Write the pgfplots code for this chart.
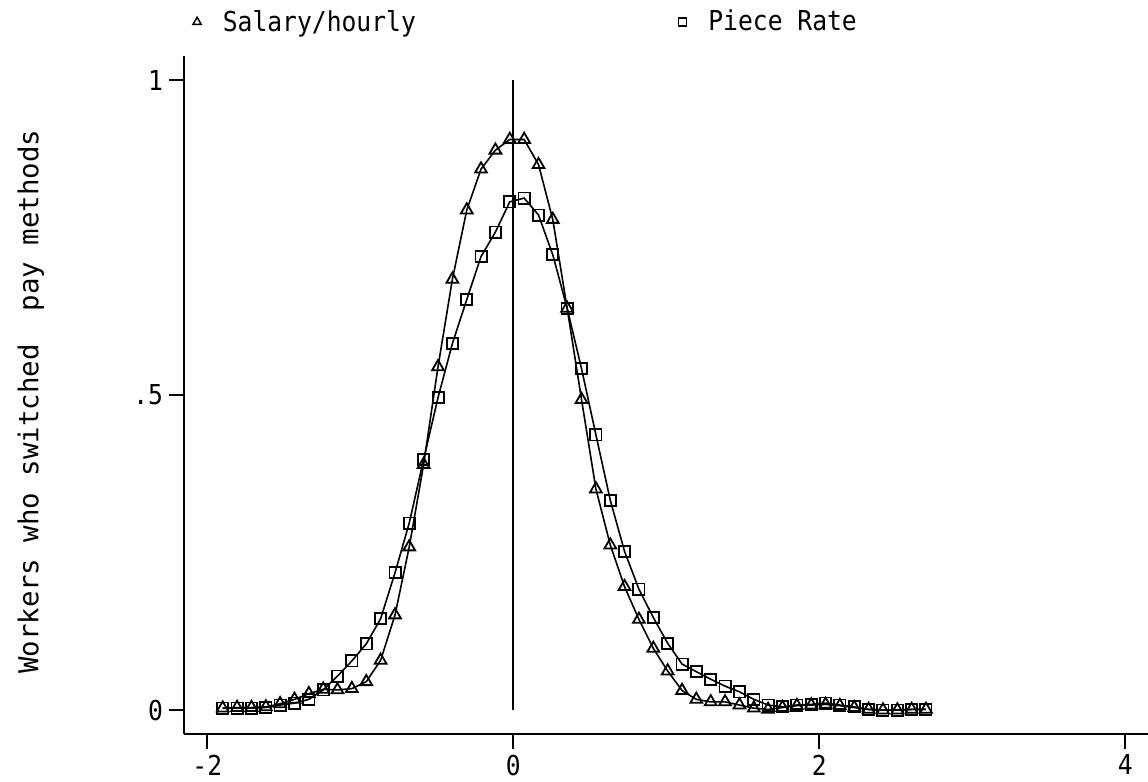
\documentclass[border=0pt]{standalone}
\usepackage{fontspec}
\setmainfont{DejaVu Sans Mono}[FakeStretch=0.9]
\newfontfamily\labfont{DejaVu Sans Mono}
\usepackage{pgfplots}
\pgfplotsset{compat=1.18}
\usepackage{pgfplotstable}
\newcommand\sfnt{\fontsize{13.7pt}{16pt}\selectfont}

\pgfplotstableread{
x sal pr
-1.899 0.003 0.003
-1.805 0.004 0.003
-1.711 0.004 0.003
-1.617 0.005 0.004
-1.524 0.010 0.008
-1.430 0.017 0.011
-1.336 0.026 0.017
-1.242 0.033 0.032
-1.149 0.032 0.054
-1.055 0.034 0.078
-0.961 0.045 0.105
-0.867 0.079 0.145
-0.773 0.151 0.218
-0.680 0.259 0.297
-0.586 0.390 0.398
-0.492 0.545 0.496
-0.398 0.684 0.582
-0.304 0.794 0.652
-0.211 0.859 0.720
-0.117 0.889 0.759
-0.023 0.906 0.807
0.071 0.906 0.813
0.165 0.866 0.786
0.258 0.779 0.723
0.352 0.638 0.638
0.446 0.493 0.542
0.540 0.351 0.437
0.634 0.262 0.333
0.727 0.196 0.252
0.821 0.144 0.192
0.915 0.098 0.147
1.009 0.062 0.106
1.103 0.031 0.073
1.196 0.017 0.061
1.290 0.013 0.049
1.384 0.013 0.038
1.478 0.008 0.029
1.572 0.003 0.017
1.665 0.001 0.008
1.759 0.004 0.005
1.853 0.007 0.008
1.947 0.008 0.009
2.041 0.009 0.011
2.134 0.007 0.008
2.228 0.004 0.005
2.322 0.001 0.001
2.416 0.000 0.000
2.510 0.000 0.000
2.603 0.001 0.001
2.697 0.001 0.001
}\data

\begin{document}
\begin{tikzpicture}
\begin{axis}[
  name=ax,
  scale only axis,
  width=482pt, height=339pt,
  xmin=-2.152, xmax=4.148,
  ymin=-0.038, ymax=1.0386,
  axis lines*=left,
  axis line style={line width=0.9pt},
  tick align=outside,
  major tick length=7.3pt,
  tick style={line width=0.9pt, black},
  xtick={-2,0,2,4}, xticklabels={-2,0,2,4},
  ytick={0,0.5,1}, yticklabels={0,.5,1},
  ticklabel style={font=\sfnt, inner sep=3pt},
  every axis y label/.style={at={(axis description cs:-0.159,0.49)}, rotate=90, anchor=center},
  ylabel={Workers who switched~~pay methods},
  label style={font=\labfont\sfnt},
  legend columns=2,
  legend style={draw=none, fill=none, inner sep=0pt, font=\sfnt,
    at={(axis description cs:0.0062,1.0501)}, anchor=west,
    nodes={inner sep=0pt},
    cells={anchor=center},
    /tikz/column sep=0pt,
    /tikz/every even column/.append style={column sep=130pt}},
  legend image code/.code={\path (-3pt,0pt) (12.5pt,0pt); \draw[#1] plot coordinates {(0pt,0pt)};},
]
\addlegendimage{only marks, mark=triangle, mark size=2.4pt, line width=0.75pt, black}
\addlegendentry{Salary/hourly}
\addlegendimage{only marks, mark=square, mark size=2.0pt, line width=0.75pt, black}
\addlegendentry{Piece Rate}

\addplot[forget plot, black, line width=0.8pt] coordinates {(0,0) (0,1)};
\addplot[forget plot, black, line width=0.8pt, mark=triangle, mark size=3.4pt,
  mark options={line width=0.9pt}] table[x=x, y=sal] {\data};
\addplot[forget plot, black, line width=0.8pt, mark=square, mark size=2.8pt,
  mark options={line width=0.9pt}] table[x=x, y=pr] {\data};
\end{axis}
\pgfresetboundingbox
\path[use as bounding box] ([shift={(-92pt,-23.5pt)}]ax.south west) rectangle ([shift={(0pt,28pt)}]ax.north east);
\end{tikzpicture}
\end{document}
